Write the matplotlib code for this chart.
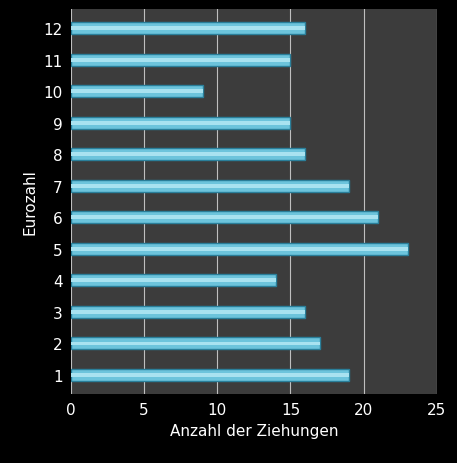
import matplotlib
matplotlib.use("Agg")
import matplotlib.pyplot as plt

categories = [1,2,3,4,5,6,7,8,9,10,11,12]
values = [19,17,16,14,23,21,19,16,15,9,15,16]
xticks = [0,5,10,15,20,25]

fig = plt.figure(figsize=(4.57,4.64), dpi=100, facecolor='black')
ax = fig.add_axes([0.155,0.149,0.801,0.829])
ax.set_facecolor('#3c3c3c')
ax.barh(categories, values, height=0.38, color='#6cc4dc', edgecolor='#2a7f9a', linewidth=1, zorder=3)
ax.barh(categories, values, height=0.12, left=0, color='#a8e2f0', linewidth=0, zorder=4,
        align='center')
ax.set_xlim(0,25)
ax.set_ylim(0.4,12.6)
ax.set_xticks(xticks)
ax.set_yticks(categories)
ax.grid(axis='x', color='#bfbfbf', linewidth=0.8, zorder=0)
for s in ax.spines.values():
    s.set_visible(False)
ax.tick_params(colors='white', labelsize=11, length=0, pad=6)
ax.set_xlabel('Anzahl der Ziehungen', color='white', fontsize=11)
ax.set_ylabel('Eurozahl', color='white', fontsize=11)
fig.savefig('out.png', dpi=100, facecolor='black')
